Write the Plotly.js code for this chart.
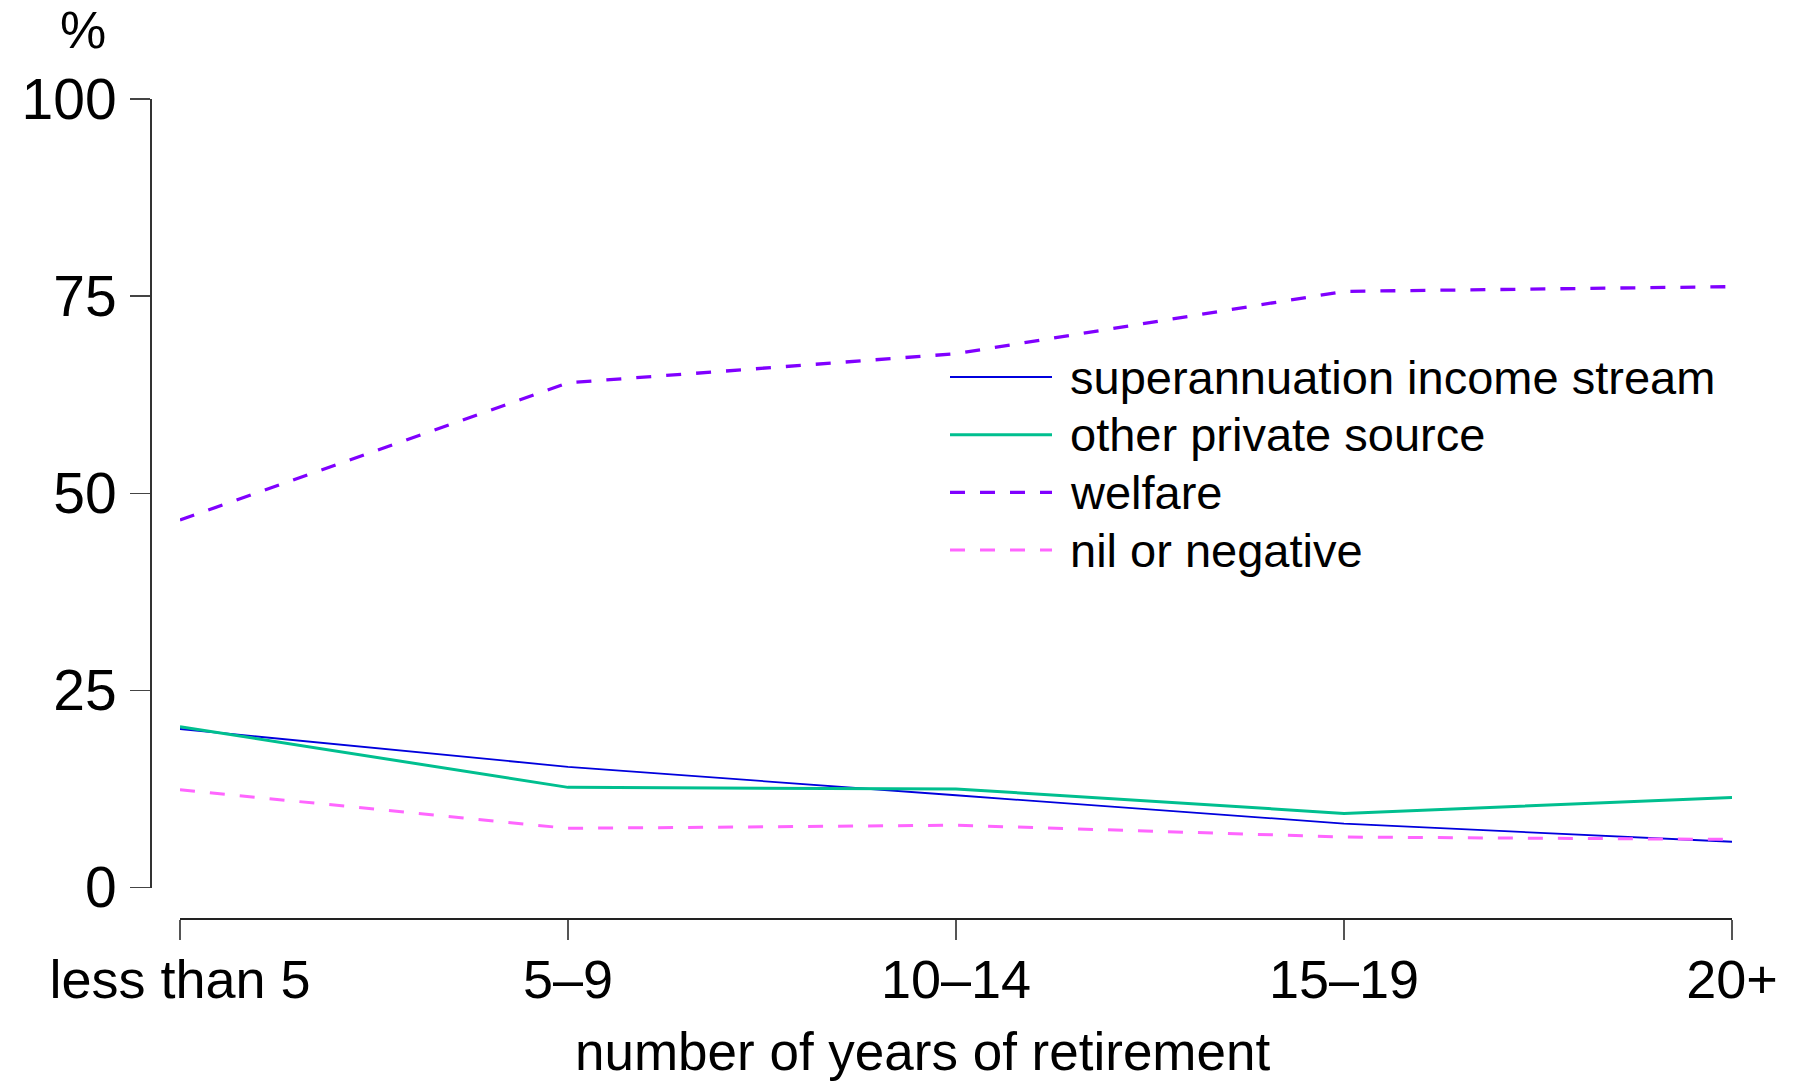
<!DOCTYPE html>
<html>
<head>
<meta charset="utf-8">
<script src="https://cdn.plot.ly/plotly-3.0.1.min.js"></script>
<style>html,body{margin:0;padding:0;background:#fff;}#chart{width:1805px;height:1081px;}</style>
</head>
<body>
<div id="chart"></div>
<script>
// ---- data ----
const categories = ['less than 5', '5–9', '10–14', '15–19', '20+'];
const superannuation = [20.1, 15.3, 11.7, 8.1, 5.8];
const otherPrivate = [20.4, 12.7, 12.5, 9.4, 11.4];
const welfare = [46.6, 64.0, 67.7, 75.6, 76.2];
const nilNegative = [12.4, 7.5, 7.9, 6.4, 6.1];
const seriesNames = ['superannuation income stream', 'other private source', 'welfare', 'nil or negative'];
const yTicks = [0, 25, 50, 75, 100];
const xTitle = 'number of years of retirement';
const yUnit = '%';

// ---- layout geometry ----
const W = 1805, H = 1081;
const L = 150, R = 73, T = 99, B = 163;
const plotW = W - L - R, plotH = H - T - B;
const px2x = p => (p - L) / plotW;
const px2y = p => (H - B - p) / plotH;

const FONT = 'Liberation Sans, Arial, Helvetica, sans-serif';
const colors = ['#0000dd', '#00bf8f', '#8000ff', '#ff66ff'];
const widths = [1.8, 3, 3.3, 3];
const dashes = ['solid', 'solid', '15px,15px', '15px,15px'];
const values = [superannuation, otherPrivate, welfare, nilNegative];

const traces = values.map((v, i) => ({
  type: 'scatter', mode: 'lines', x: categories, y: v, name: seriesNames[i],
  line: {color: colors[i], width: widths[i], dash: dashes[i]},
  hoverinfo: 'x+y+name', showlegend: false
}));

// custom legend (long key lines like the reference)
const legX0 = 950, legX1 = 1052, legTextX = 1068, legY0 = 377, legStep = 57.7;
const shapes = [], annotations = [];
seriesNames.forEach((n, i) => {
  const yy = legY0 + i * legStep;
  shapes.push({type: 'line', xref: 'paper', yref: 'paper',
    x0: px2x(legX0), x1: px2x(legX1), y0: px2y(yy), y1: px2y(yy),
    line: {color: colors[i], width: widths[i], dash: dashes[i]}});
  annotations.push({xref: 'paper', yref: 'paper', x: px2x(legTextX), y: px2y(yy),
    xanchor: 'left', yanchor: 'middle', showarrow: false, text: n,
    font: {family: FONT, size: 47, color: '#000'}});
});
annotations.push({xref: 'paper', yref: 'paper', x: px2x(83), y: px2y(30),
  xanchor: 'center', yanchor: 'middle', showarrow: false, text: yUnit,
  font: {family: FONT, size: 52, color: '#000'}});
annotations.push({xref: 'paper', yref: 'paper', x: px2x(922), y: px2y(1051),
  xanchor: 'center', yanchor: 'middle', showarrow: false, text: xTitle,
  font: {family: FONT, size: 53, color: '#000'}});

const layout = {
  width: W, height: H,
  margin: {l: L, r: R, t: T, b: B, pad: 0},
  paper_bgcolor: '#fff', plot_bgcolor: '#fff',
  font: {family: FONT, size: 53, color: '#000'},
  showlegend: false,
  xaxis: {
    type: 'category', range: [0, 4], domain: [px2x(180), 1],
    anchor: 'free', position: 0,
    showgrid: false, zeroline: false,
    showline: true, linecolor: '#222', linewidth: 1.5,
    ticks: 'outside', ticklen: 20, tickwidth: 1.5, tickcolor: '#555',
    tickfont: {family: FONT, size: 54, color: '#000'},
    ticklabelstandoff: -6
  },
  yaxis: {
    range: [0, 100], domain: [px2y(887.5), 1],
    anchor: 'free', position: 0,
    tickvals: yTicks, ticktext: yTicks.map(String),
    showgrid: false, zeroline: false,
    showline: true, linecolor: '#333', linewidth: 1.5,
    ticks: 'outside', ticklen: 20, tickwidth: 1.5, tickcolor: '#444',
    tickfont: {family: FONT, size: 57, color: '#000'},
    ticklabelstandoff: 2
  },
  shapes: shapes,
  annotations: annotations
};

Plotly.newPlot('chart', traces, layout, {displayModeBar: false, staticPlot: true});
</script>
</body>
</html>
